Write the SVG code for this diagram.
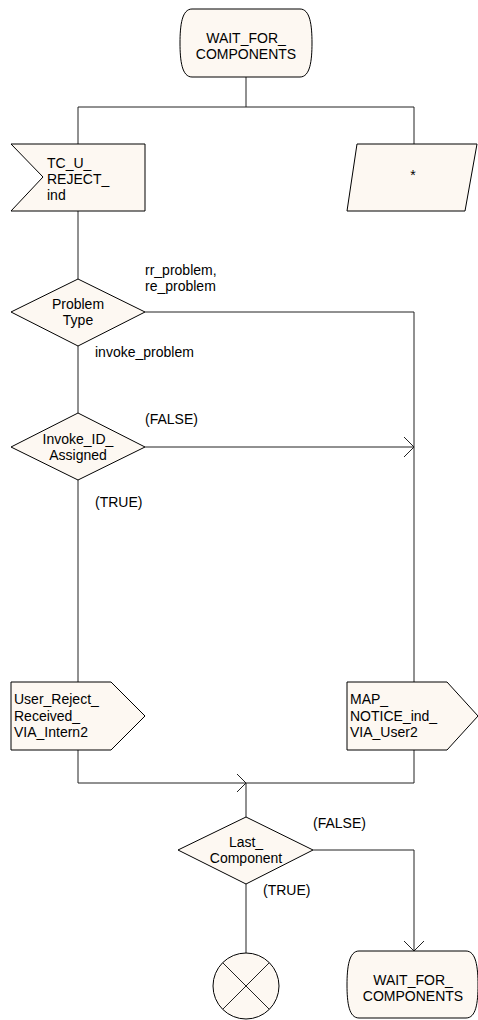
<svg xmlns="http://www.w3.org/2000/svg" width="478" height="1020" viewBox="0 0 478 1020">
<style>
.s{fill:#fdf8f2;stroke:#000;stroke-width:1}
.c{fill:none;stroke:#222;stroke-width:1}
text{font-family:"Liberation Sans",Arial,sans-serif;font-size:14px;fill:#000}
.m{text-anchor:middle}
</style>
<rect width="478" height="1020" fill="#fff"/>
<g id="connectors">
<path class="c" d="M246,77V107M78,107H414M78,107V144M414,107V144"/>
<path class="c" d="M78,211V279"/>
<path class="c" d="M145,312H414V682"/>
<path class="c" d="M78,346V413"/>
<path class="c" d="M145,447H414M404,437L414,447L404,457"/>
<path class="c" d="M78,480V682"/>
<path class="c" d="M78,750V783H246M237,774L246,783L237,792M414,750V783H246V817"/>
<path class="c" d="M246,884V953"/>
<path class="c" d="M313,850H414V951M404,941L414,951L424,941"/>
</g>
<g id="state_top">
<path class="s" d="M192,9H300C310,9 312,25 312,43C312,61 310,77 300,77H192C182,77 180,61 180,43C180,25 182,9 192,9Z"/>
<text class="m" x="246" y="43">WAIT_FOR_</text>
<text class="m" x="246" y="59">COMPONENTS</text>
</g>
<g id="tc_u_reject">
<polygon class="s" points="11,144 145,144 145,211 11,211 43,177"/>
<text x="47" y="168">TC_U_</text>
<text x="47" y="184">REJECT_</text>
<text x="47" y="200">ind</text>
</g>
<g id="star">
<polygon class="s" points="357,144 477,144 465,211 347,211"/>
<text class="m" x="413" y="180">*</text>
</g>
<g id="problem_type">
<polygon class="s" points="78,279 145,312 78,346 11,312"/>
<text class="m" x="78" y="309">Problem</text>
<text class="m" x="78" y="325">Type</text>
<text x="145" y="275">rr_problem,</text>
<text x="145" y="291">re_problem</text>
<text x="95" y="357">invoke_problem</text>
</g>
<g id="invoke_id">
<polygon class="s" points="78,413 145,447 78,480 11,447"/>
<text class="m" x="78" y="444">Invoke_ID_</text>
<text class="m" x="78" y="460">Assigned</text>
<text x="145" y="424">(FALSE)</text>
<text x="95" y="507">(TRUE)</text>
</g>
<g id="user_reject">
<polygon class="s" points="11,682 111,682 145,716 111,750 11,750"/>
<text x="14" y="704">User_Reject_</text>
<text x="14" y="721">Received_</text>
<text x="14" y="737">VIA_Intern2</text>
</g>
<g id="map_notice">
<polygon class="s" points="347,682 447,682 478,716 447,750 347,750"/>
<text x="350" y="704">MAP_</text>
<text x="350" y="721">NOTICE_ind_</text>
<text x="350" y="737">VIA_User2</text>
</g>
<g id="last_component">
<polygon class="s" points="246,817 313,850 246,884 178,850"/>
<text class="m" x="246" y="847">Last_</text>
<text class="m" x="246" y="863">Component</text>
<text x="313" y="828">(FALSE)</text>
<text x="263" y="895">(TRUE)</text>
</g>
<g id="stop">
<circle class="s" cx="246" cy="986" r="33"/>
<path class="c" stroke="#000" d="M222.7,962.7L269.3,1009.3M269.3,962.7L222.7,1009.3"/>
</g>
<g id="state_bottom">
<path class="s" d="M359,951H466C476,951 478,967 478,985C478,1003 476,1018 466,1018H359C349,1018 347,1003 347,985C347,967 349,951 359,951Z"/>
<text class="m" x="413" y="985">WAIT_FOR_</text>
<text class="m" x="413" y="1001">COMPONENTS</text>
</g>
</svg>
